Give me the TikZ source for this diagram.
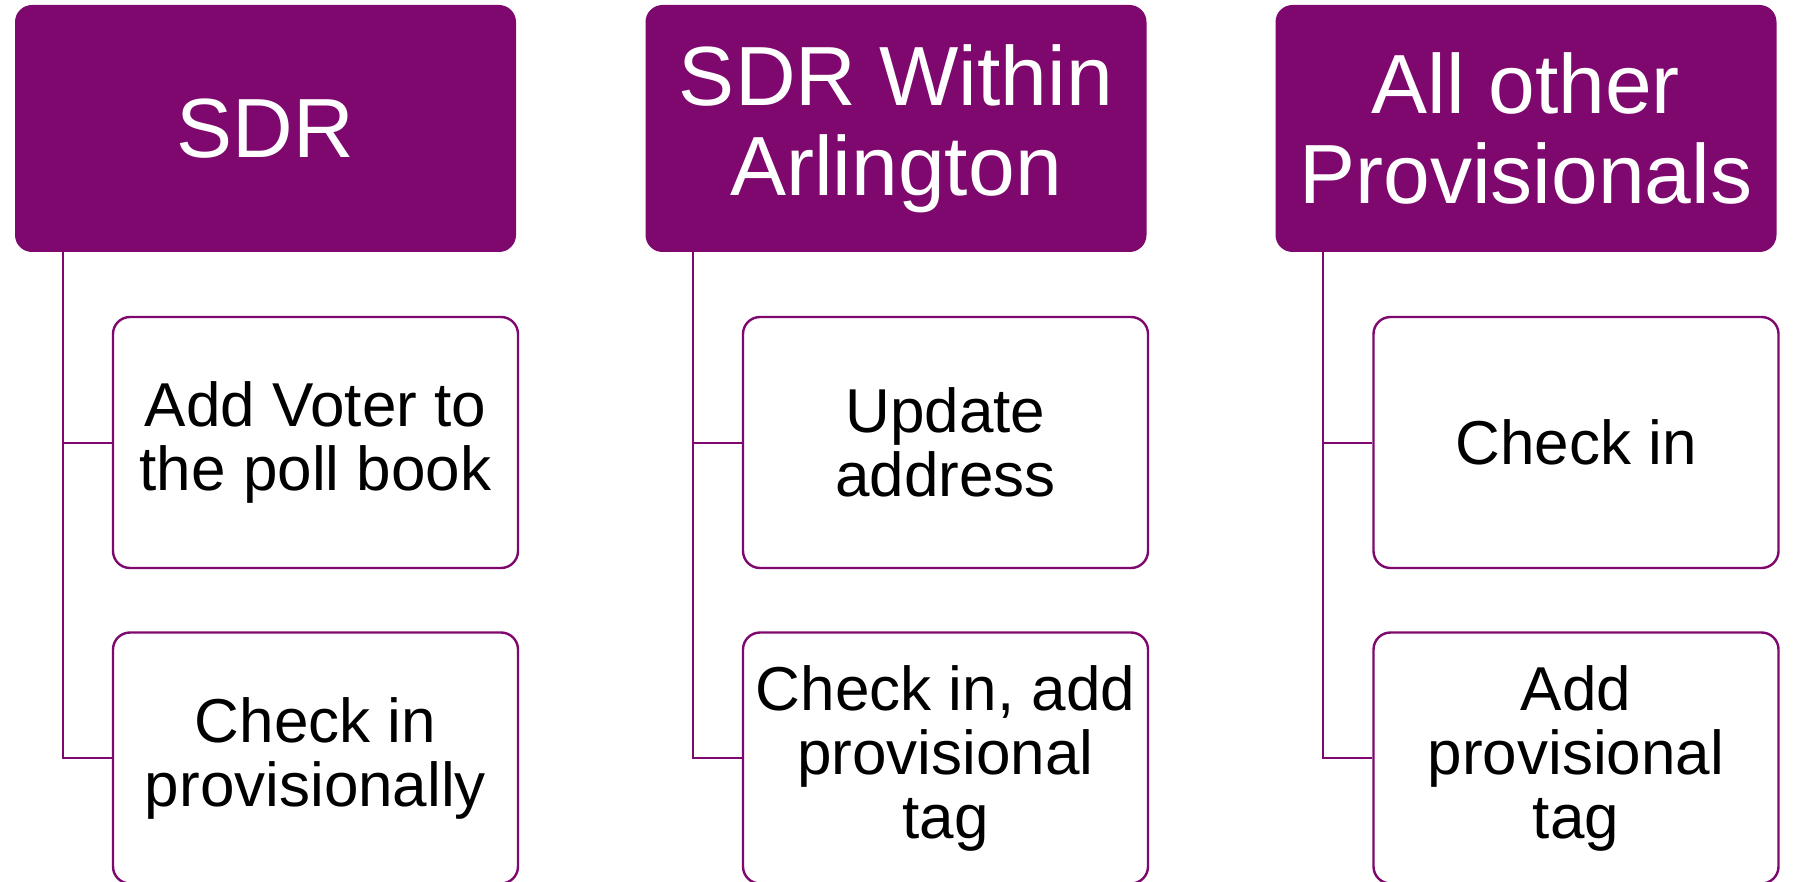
\documentclass[tikz,border=0pt]{standalone}
\usepackage{fontspec}
\setmainfont{Liberation Sans}
\definecolor{plum}{RGB}{126,8,110}
\begin{document}
\begin{tikzpicture}[x=0.5pt,y=-0.5pt,
  header/.style={fill=plum,draw=none,rounded corners=8.5pt,minimum width=250.5pt,minimum height=123.5pt,inner sep=0pt,align=center,text=white,font=\fontsize{42}{45}\selectfont},
  child/.style={fill=white,draw=plum,line width=1.2pt,rounded corners=8.5pt,minimum width=202.5pt,minimum height=125.5pt,inner sep=0pt,align=center,text=black,font=\fontsize{31}{32}\selectfont},
  link/.style={draw=plum,line width=1pt}]
\useasboundingbox (0,0) rectangle (1793,882);
% headers
\node[header] (h1) at (265.5,128.5) {SDR};
\node[header] (h2) at (896,128.5) {SDR Within\\Arlington};
\node[header] (h3) at (1526,128.5) {All other\\Provisionals};
% children
\node[child] (c11) at (315.5,442.5) {Add Voter to\\the poll book};
\node[child] (c12) at (315.5,758) {Check in\\provisionally};
\node[child] (c21) at (945.5,442.5) {Update\\address};
\node[child] (c22) at (945.5,758) {Check in, add\\provisional\\tag};
\node[child] (c31) at (1576,442.5) {Check in};
\node[child] (c32) at (1576,758) {Add\\provisional\\tag};
% connectors
\foreach \h/\a/\b in {h1/c11/c12,h2/c21/c22,h3/c31/c32}{
  \coordinate (\h-s) at ([xshift=24pt]\h.south west);
  \draw[link] (\h-s) |- (\a.west);
  \draw[link] (\h-s) |- (\b.west);
}
\end{tikzpicture}
\end{document}
